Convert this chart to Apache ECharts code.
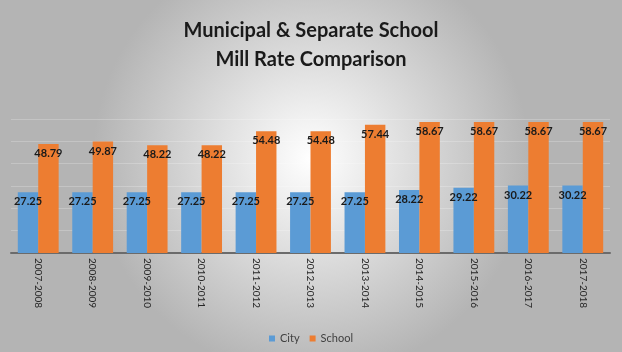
<!DOCTYPE html>
<html>
<head>
<meta charset="utf-8">
<script src="https://cdn.jsdelivr.net/npm/echarts@6/dist/echarts.min.js"></script>
<style>
  html, body { margin: 0; padding: 0; }
  #chart { width: 622px; height: 352px; }
</style>
</head>
<body>
<div id="chart"></div>
<script>
const years = ['2007-2008', '2008-2009', '2009-2010', '2010-2011', '2011-2012', '2012-2013',
  '2013-2014', '2014-2015', '2015-2016', '2016-2017', '2017-2018']
const city = [27.25, 27.25, 27.25, 27.25, 27.25, 27.25, 27.25, 28.22, 29.22, 30.22, 30.22]
const school = [48.79, 49.87, 48.22, 48.22, 54.48, 54.48, 57.44, 58.67, 58.67, 58.67, 58.67]

const labelStyle = {
  show: true,
  position: 'insideTop',
  distance: 4,
  color: '#1a1a1a',
  fontSize: 11,
  fontWeight: 'bold',
  fontFamily: 'Lato, sans-serif',
  formatter: p => p.value.toFixed(2)
}

const chart = echarts.init(document.getElementById('chart'))
chart.setOption({
  animation: false,
  backgroundColor: {
    type: 'radial', x: 0.5, y: 0.45, r: 0.62,
    colorStops: [
      { offset: 0, color: '#ffffff' },
      { offset: 1, color: '#b4b4b4' }
    ]
  },
  title: {
    text: 'Municipal & Separate School\nMill Rate Comparison',
    left: 'center',
    top: 11,
    textStyle: {
      color: '#1a1a1a',
      fontSize: 20,
      fontWeight: 'bold',
      fontFamily: 'Lato, sans-serif',
      lineHeight: 29
    }
  },
  legend: {
    top: 328,
    left: 'center',
    icon: 'rect',
    itemWidth: 6,
    itemHeight: 6,
    itemGap: 10,
    textStyle: { color: '#404040', fontSize: 11, fontFamily: 'Lato, sans-serif' },
    data: ['City', 'School']
  },
  grid: { left: 11, right: 12, top: 119, bottom: 99 },
  xAxis: {
    type: 'category',
    data: years,
    axisLine: { lineStyle: { color: '#6b6b6b', width: 2 } },
    axisTick: { show: false },
    axisLabel: {
      rotate: -90,
      margin: 5,
      color: '#262626',
      fontSize: 10,
      fontFamily: 'Lato, sans-serif'
    }
  },
  yAxis: {
    type: 'value',
    min: 0,
    max: 60,
    interval: 10,
    axisLabel: { show: false },
    axisLine: { show: false },
    axisTick: { show: false },
    splitLine: { lineStyle: { color: 'rgba(255,255,255,0.22)' } }
  },
  series: [
    {
      name: 'City',
      type: 'bar',
      data: city,
      barGap: '0%',
      barCategoryGap: '25%',
      itemStyle: { color: '#5b9bd5' },
      label: labelStyle
    },
    {
      name: 'School',
      type: 'bar',
      data: school,
      itemStyle: { color: '#ed7d31' },
      label: labelStyle
    }
  ]
})
</script>
</body>
</html>
